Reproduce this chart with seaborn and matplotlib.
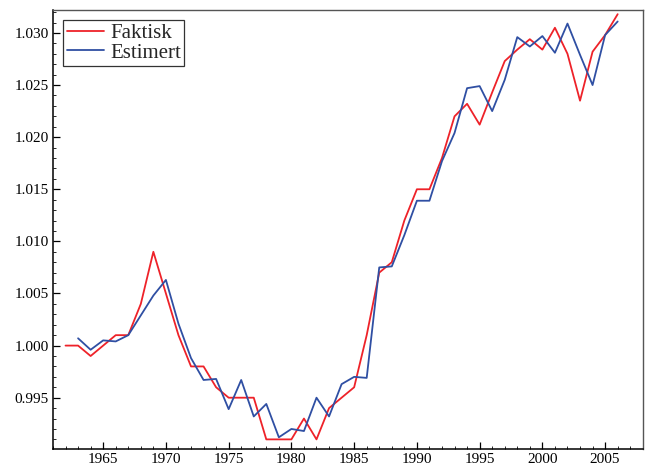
"""Faktisk vs estimert, 1962-2006."""

import matplotlib
matplotlib.use("Agg")
import matplotlib.pyplot as plt
from matplotlib.ticker import MultipleLocator, FormatStrFormatter
import pandas as pd
import seaborn as sns

# ─── Data ────────────────────────────────────────────────────────────────────

faktisk_years = list(range(1962, 2007))
faktisk = [
    1.000, 1.000, 0.999, 1.000, 1.001, 1.001, 1.004, 1.009, 1.005, 1.001,
    0.998, 0.998, 0.996, 0.995, 0.995, 0.995, 0.991, 0.991, 0.991, 0.993,
    0.991, 0.994, 0.995, 0.996, 1.001, 1.007, 1.008, 1.012, 1.015, 1.015,
    1.018, 1.022, 1.0232, 1.0212, 1.0243, 1.0273, 1.0284, 1.0294, 1.0284, 1.0305,
    1.0280, 1.0235, 1.0282, 1.0298, 1.0318,
]

estimert_years = list(range(1963, 2007))
estimert = [
    1.0007, 0.9996, 1.0005, 1.0004, 1.0010, 1.0029, 1.0048, 1.0063, 1.0021,
    0.9988, 0.9967, 0.9968, 0.9939, 0.9967, 0.9932, 0.9944, 0.9912, 0.9920,
    0.9918, 0.9950, 0.9932, 0.9963, 0.9970, 0.9969, 1.0075, 1.0076, 1.0106,
    1.0139, 1.0139, 1.0177, 1.0204, 1.0247, 1.0249, 1.0225, 1.0255, 1.0296,
    1.0287, 1.0297, 1.0281, 1.0309, 1.0279, 1.0250, 1.0298, 1.0311,
]

series_names = ["Faktisk", "Estimert"]
series_colors = ["#ee2229", "#2f4fa3"]

df = pd.concat([
    pd.DataFrame({"year": faktisk_years, "value": faktisk, "serie": series_names[0]}),
    pd.DataFrame({"year": estimert_years, "value": estimert, "serie": series_names[1]}),
])

# ─── Figure ──────────────────────────────────────────────────────────────────

sns.set_style("white")
plt.rcParams["font.family"] = ["Liberation Serif", "DejaVu Serif"]

fig = plt.figure(figsize=(6.46, 4.66), dpi=100)
ax = fig.add_axes([0.082, 0.037, 0.913, 0.9415])

sns.lineplot(
    data=df, x="year", y="value", hue="serie",
    palette=dict(zip(series_names, series_colors)),
    linewidth=1.3, ax=ax,
)

ax.xaxis.set_major_locator(MultipleLocator(5))
ax.xaxis.set_minor_locator(MultipleLocator(1))
ax.yaxis.set_major_locator(MultipleLocator(0.005))
ax.yaxis.set_minor_locator(MultipleLocator(0.001))
ax.yaxis.set_major_formatter(FormatStrFormatter("%.3f"))

ax.set_xlim(1961, 2008)
ax.set_ylim(0.9901, 1.0322)
ax.set_xlabel("")
ax.set_ylabel("")

ax.tick_params(which="major", direction="in", length=5, width=0.9, labelsize=11,
               colors="black", bottom=True, left=True, top=False, right=False, pad=3)
ax.tick_params(which="minor", direction="in", length=2.5, width=0.7,
               bottom=True, left=True, top=False, right=False)

for side in ["left", "bottom"]:
    ax.spines[side].set_color("black")
    ax.spines[side].set_linewidth(1.1)
for side in ["top", "right"]:
    ax.spines[side].set_color("#555555")
    ax.spines[side].set_linewidth(1.0)

leg = ax.legend(
    loc="upper left", fontsize=15, frameon=True, fancybox=False,
    edgecolor="#333333", framealpha=1, handlelength=1.8, handletextpad=0.3,
    borderpad=0.15, labelspacing=0.0, borderaxespad=0.5,
)
leg.get_frame().set_linewidth(0.9)
for line in leg.get_lines():
    line.set_linewidth(1.3)

fig.savefig("out.png", dpi=100)
plt.close(fig)
